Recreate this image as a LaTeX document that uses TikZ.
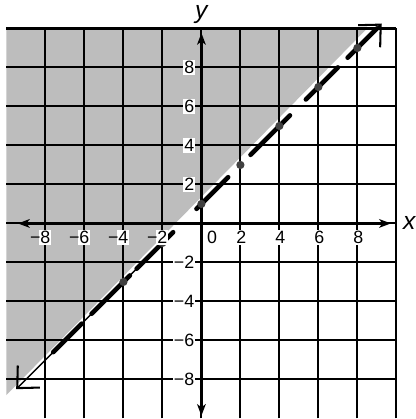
\documentclass[tikz,border=0pt]{standalone}
\usepackage{fontspec}
\setmainfont{Liberation Sans}
\usetikzlibrary{arrows.meta}
\begin{document}
\begin{tikzpicture}[x=0.5cm,y=0.5cm,line join=round,
  shadefill/.style={fill=black!26,draw=none},
  gridln/.style={line width=1.5pt,draw=black},
  axisln/.style={line width=2pt,{Stealth[length=0.3cm,width=0.22cm,inset=0.08cm]}-{Stealth[length=0.3cm,width=0.22cm,inset=0.08cm]}},
  thinln/.style={line width=1.1pt},
  barbtip/.style={line width=1.5pt},
  dashln/.style={line width=3.4pt,line cap=round,dash pattern=on 1.032cm off 0.361cm on 1.386cm off 0.247cm on 1.322cm off 0.849cm on 1.146cm off 0.813cm on 1.428cm off 0.580cm on 1.160cm off 0.354cm on 1.061cm off 2cm},
  ptmark/.style={circle,fill=black!75,inner sep=0pt,minimum size=6pt},
  numlab/.style={font=\fontsize{13}{15}\selectfont,fill=white,inner sep=0.8pt},
  axlab/.style={font=\fontsize{18}{20}\selectfont\itshape,inner sep=0pt}]
\useasboundingbox[fill=white] (-10.33,-10.03) rectangle (11.0,11.46);
% shaded half-plane
\fill[shadefill] (-10,-8.8) -- (8.5,10) -- (-10,10) -- cycle;
% grid
\draw[gridln] (-10,-10) grid (10,10);
% axes
\coordinate (xl) at (-9.41,0);
\coordinate (xr) at (9.72,0);
\coordinate (yb) at (0,-9.87);
\coordinate (yt) at (0,9.77);
\draw[axisln] (xl) -- (xr);
\draw[axisln] (yb) -- (yt);
% boundary line y = x + 1
\coordinate (A) at (-9.5,-8.5);
\coordinate (D) at (-1.45,-0.45);
\coordinate (C) at (-7.6,-6.6);
\coordinate (E) at (9.0,10.0);
\coordinate (B) at (9.25,10.25);
\draw[thinln,{Straight Barb[length=0.42cm,width=0.8cm,line width=1.5pt]}-] (A) -- (D);
\draw[dashln] (C) -- (E);
\draw[barbtip,-{Straight Barb[length=0.42cm,width=0.8cm]}] (E) -- (B);
\foreach \px/\nm in {-4/a,-2/b,0/c,2/d,4/e,6/f,8/g}
  \node[ptmark] (p\nm) at (\px,\px+1) {};
% axis numbers
\foreach \v in {2,4,6,8}{
  \node[numlab,anchor=east] (ypos\v) at (-0.3,\v) {\v};
  \node[numlab,anchor=east] (yneg\v) at (-0.3,-\v) {−\v};
  \node[numlab] (xpos\v) at (\v+0.05,-0.72) {\v};
  \node[numlab] (xneg\v) at (-\v,-0.72) {\llap{−}\v};
}
\node[numlab] (zero) at (0.55,-0.7) {0};
\node[axlab] (xlab) at (10.66,0) {x};
\node[axlab] (ylab) at (0,10.69) {y};
\end{tikzpicture}
\end{document}
